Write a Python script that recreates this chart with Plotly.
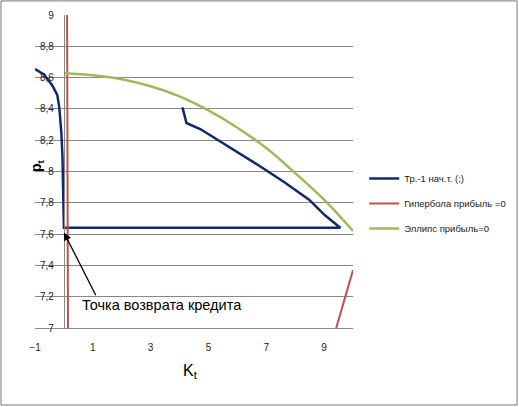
import plotly.graph_objects as go

# trajectory (blue)
traj_k = [4.10, 4.24, 4.73, 5.78, 6.73, 7.64, 8.48, 9.03, 9.56, 0.00, -0.02, -0.05, -0.09, -0.16, -0.23, -0.40, -0.69, -1.00]
traj_p = [8.41, 8.31, 8.27, 8.15, 8.04, 7.93, 7.82, 7.72, 7.64, 7.64, 7.90, 8.10, 8.25, 8.41, 8.49, 8.55, 8.62, 8.655]

# hyperbola profit = 0 (two branches, None splits them)
hyp_k = [0.11, 0.125, 0.14, None, 9.42, 9.70, 10.0]
hyp_p = [9.00, 8.00, 7.00, None, 7.00, 7.18, 7.37]

# ellipse profit = 0
ell_k = [0, 1, 2, 3, 4, 5, 6, 7, 8, 9, 10]
ell_p = [8.63, 8.615, 8.59, 8.545, 8.48, 8.39, 8.28, 8.15, 7.99, 7.82, 7.62]

x_ticks = [-1, 1, 3, 5, 7, 9]
y_ticks = [7, 7.2, 7.4, 7.6, 7.8, 8, 8.2, 8.4, 8.6, 8.8, 9]
y_labels = [str(v).replace(".", ",") if v != int(v) else str(int(v)) for v in y_ticks]

fig = go.Figure()
fig.add_trace(go.Scatter(x=traj_k, y=traj_p, mode="lines", name="Тр.-1 нач.т. (;)",
                         line=dict(color="#0E2A6E", width=2.5), legendgroup="a"))
fig.add_trace(go.Scatter(x=hyp_k, y=hyp_p, mode="lines", name="Гипербола прибыль =0",
                         line=dict(color="#C0504D", width=2), legendgroup="b"))
fig.add_trace(go.Scatter(x=ell_k, y=ell_p, mode="lines", name="Эллипс прибыль=0",
                         line=dict(color="#9BBB59", width=2.5, shape="spline"), legendgroup="c"))

narrow = "Liberation Sans Narrow, Arial Narrow, sans-serif"
tick_font = dict(family=narrow, size=10, color="#222")

fig.update_layout(
    width=519, height=407,
    margin=dict(l=35, r=166, t=15, b=79),
    paper_bgcolor="white", plot_bgcolor="white",
    showlegend=True,
    legend=dict(xref="container", yref="container", x=0.985, y=0.50,
                yanchor="middle", xanchor="right",
                font=dict(family=narrow, size=9.5, color="#222"),
                tracegroupgap=6, bgcolor="rgba(0,0,0,0)"),
    xaxis=dict(range=[-1, 10], tickvals=x_ticks, showgrid=False, zeroline=False,
               showline=True, linecolor="#888", linewidth=1, ticks="", automargin=False,
               ticklabelstandoff=10, tickfont=tick_font),
    yaxis=dict(range=[7, 9], tickvals=y_ticks, ticktext=y_labels, showgrid=True,
               gridcolor="#888", gridwidth=1, zeroline=False, automargin=False,
               showline=True, linecolor="#888", linewidth=1, ticks="",
               anchor="free", position=1 / 11, ticklabelstandoff=8, tickfont=tick_font),
    annotations=[
        dict(x=0.0, y=7.61, ax=1.13, ay=7.20, xref="x", yref="y", axref="x", ayref="y",
             text="", showarrow=True, arrowhead=2, arrowsize=1.2, arrowwidth=1.3, arrowcolor="black"),
        dict(x=0.54, y=7.15, xref="x", yref="y", text="Точка возврата кредита", showarrow=False,
             xanchor="left", yanchor="middle",
             font=dict(family=narrow, size=14.5, color="black")),
        dict(x=-0.026, y=0.52, xref="paper", yref="paper", text="<b>p<sub>t</sub></b>", showarrow=False,
             textangle=-90, font=dict(family="Arial, sans-serif", size=14, color="black")),
        dict(x=0.49, y=-0.175, xref="paper", yref="paper", text="K<sub>t</sub>", showarrow=False,
             font=dict(family="Arial, sans-serif", size=16, color="black")),
    ],
    shapes=[
        dict(type="rect", xref="paper", yref="paper", x0=-0.107, x1=1.516, y0=-0.246, y1=1.045,
             line=dict(color="#777", width=1), fillcolor="rgba(0,0,0,0)", layer="below"),
    ],
)

# drop the browser's default 8px body margin so the figure sits at the page corner
fig.write_html("out.html", config={"displayModeBar": False},
               post_script="document.body.style.margin = '0';")
